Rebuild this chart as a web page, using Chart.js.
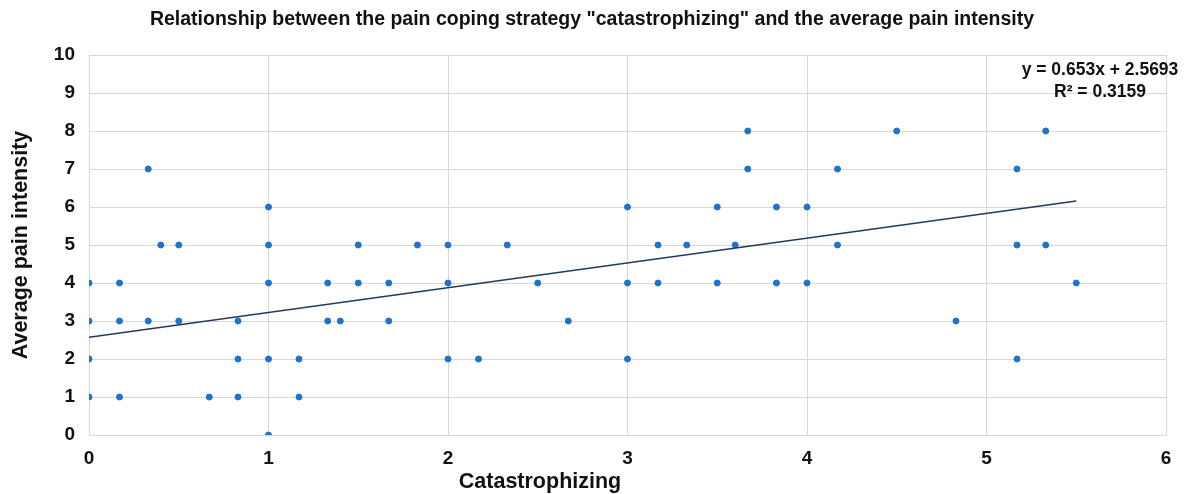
<!DOCTYPE html>
<html>
<head>
<meta charset="utf-8">
<script src="https://cdn.jsdelivr.net/npm/chart.js@4.4.0/dist/chart.umd.min.js"></script>
<style>
  html, body { margin: 0; padding: 0; background: #fff; }
  #wrap { width: 1187px; height: 494px; }
</style>
</head>
<body>
<div id="wrap"><canvas id="painChart" width="1187" height="494"></canvas></div>
<script>
// Catastrophizing score (x) and average pain intensity (y)
const catastrophizing = [
  0, 0, 0, 0,
  0.17, 0.17, 0.17,
  0.33, 0.33, 0.4, 0.5, 0.5,
  0.67, 0.83, 0.83, 0.83,
  1, 1, 1, 1, 1,
  1.17, 1.17, 1.33, 1.33, 1.4, 1.5, 1.5, 1.67, 1.67,
  1.83, 2, 2, 2, 2.17, 2.33, 2.5, 2.67,
  3, 3, 3, 3.17, 3.17, 3.33, 3.5, 3.5, 3.6,
  3.67, 3.67, 3.83, 3.83, 4, 4, 4.17, 4.17, 4.5,
  4.83, 5.17, 5.17, 5.17, 5.33, 5.33, 5.5
];
const painIntensity = [
  4, 3, 2, 1,
  4, 3, 1,
  7, 3, 5, 5, 3,
  1, 3, 2, 1,
  6, 5, 4, 2, 0,
  2, 1, 4, 3, 3, 5, 4, 4, 3,
  5, 5, 4, 2, 2, 5, 4, 3,
  6, 4, 2, 5, 4, 5, 6, 4, 5,
  8, 7, 6, 4, 6, 4, 7, 5, 8,
  3, 7, 5, 2, 8, 5, 4
];

// Linear trendline as given in the chart label
const trendSlope = 0.653;
const trendIntercept = 2.5693;
const rSquared = 0.3159;

const xTicks = [0, 1, 2, 3, 4, 5, 6];
const yTicks = [0, 1, 2, 3, 4, 5, 6, 7, 8, 9, 10];

const chartTitle = 'Relationship between the pain coping strategy "catastrophizing" and the average pain intensity';

const points = catastrophizing.map((x, i) => ({ x: x, y: painIntensity[i] }));
const xMin = Math.min(...catastrophizing);
const xMax = Math.max(...catastrophizing);
const trendPoints = [xMin, xMax].map(x => ({ x: x, y: trendSlope * x + trendIntercept }));

const FONT = '"Liberation Sans", Arial, sans-serif';

// extra texts: title, x axis title and trendline equation
const extraText = {
  id: 'extraText',
  afterDraw(chart) {
    const ctx = chart.ctx;
    ctx.save();
    ctx.fillStyle = '#111';
    ctx.textAlign = 'center';
    ctx.textBaseline = 'middle';
    ctx.font = 'bold 19.5px ' + FONT;
    ctx.fillText(chartTitle, 592, 20);
    ctx.font = 'bold 21.5px ' + FONT;
    ctx.fillText('Catastrophizing', 540, 482);
    ctx.font = 'bold 17.5px ' + FONT;
    ctx.fillText('y = ' + trendSlope + 'x + ' + trendIntercept, 1100, 70);
    ctx.fillText('R² = ' + rSquared, 1100, 92);
    ctx.restore();
  }
};

const ctx = document.getElementById('painChart').getContext('2d');
const painChart = new Chart(ctx, {
  type: 'scatter',
  data: {
    datasets: [{
      label: 'Patients',
      data: points,
      backgroundColor: '#1f73cc',
      borderColor: '#1f73cc',
      pointRadius: 3,
      pointHoverRadius: 3,
      order: 2
    }, {
      label: 'Trend',
      data: trendPoints,
      showLine: true,
      borderColor: '#1f3a60',
      borderWidth: 1.5,
      pointRadius: 0,
      fill: false,
      order: 1
    }]
  },
  options: {
    responsive: false,
    animation: false,
    layout: { padding: { left: 0, right: 21, top: 55, bottom: 0 } },
    plugins: {
      legend: { display: false },
      tooltip: { enabled: false },
      title: { display: false }
    },
    scales: {
      x: {
        type: 'linear',
        min: 0,
        max: 6,
        afterBuildTicks: s => { s.ticks = xTicks.map(v => ({ value: v })); },
        afterFit: s => { s.height = 59; },
        grid: { color: '#d9d9d9', drawTicks: false },
        border: { color: '#d9d9d9' },
        ticks: {
          padding: 12,
          color: '#111',
          font: { family: FONT, size: 19, weight: 'bold' }
        }
      },
      y: {
        type: 'linear',
        min: 0,
        max: 10,
        afterBuildTicks: s => { s.ticks = yTicks.map(v => ({ value: v })); },
        afterFit: s => { s.width = 89; },
        grid: { color: '#d9d9d9', drawTicks: false },
        border: { color: '#d9d9d9' },
        ticks: {
          padding: 14,
          color: '#111',
          font: { family: FONT, size: 19, weight: 'bold' }
        },
        title: {
          display: true,
          text: 'Average pain intensity',
          color: '#111',
          font: { family: FONT, size: 21.5, weight: 'bold' },
          padding: { top: 8, bottom: 0 }
        }
      }
    }
  },
  plugins: [extraText]
});
</script>
</body>
</html>
